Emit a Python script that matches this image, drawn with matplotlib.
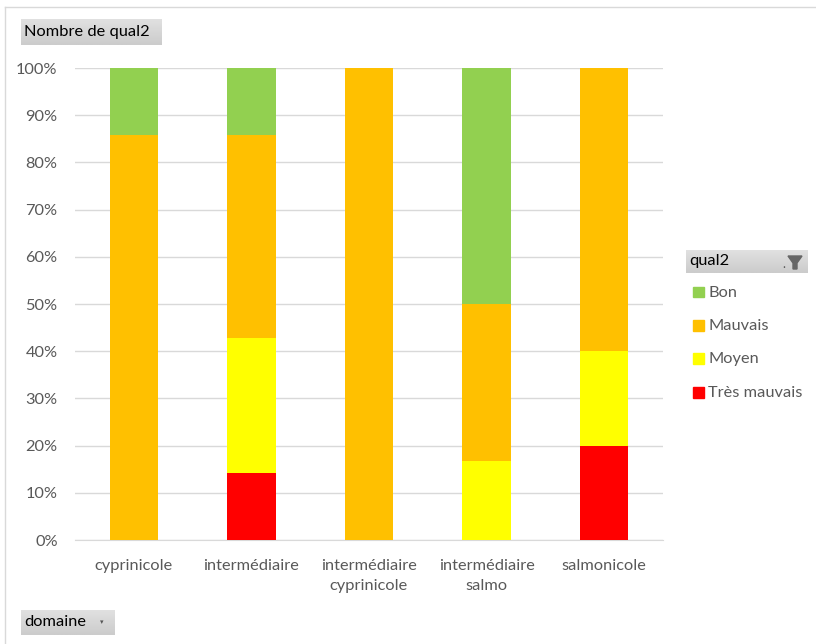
import matplotlib.pyplot as plt
from matplotlib.patches import Rectangle
from matplotlib.lines import Line2D
import numpy as np

plt.rcParams['font.family'] = ['Lato', 'DejaVu Sans']

# Counts of qual2 per domaine (pivot table "Nombre de qual2")
domaines = ["cyprinicole", "intermédiaire", "intermédiaire\ncyprinicole",
            "intermédiaire\nsalmo", "salmonicole"]
tres_mauvais = [0, 1, 0, 0, 1]
moyen = [0, 2, 0, 1, 1]
mauvais = [6, 3, 2, 2, 3]
bon = [1, 1, 0, 3, 0]

series_names = ["Très mauvais", "Moyen", "Mauvais", "Bon"]
series_counts = [tres_mauvais, moyen, mauvais, bon]
series_colors = ["#FF0000", "#FFFF00", "#FFC000", "#92D050"]

yticks = [0, 10, 20, 30, 40, 50, 60, 70, 80, 90, 100]

FS = 11.8
W, H = 816, 644
fig = plt.figure(figsize=(W / 100, H / 100), dpi=100)
ax = fig.add_axes([75 / W, 1 - 540 / H, 588 / W, 472 / H])

counts = np.array(series_counts, dtype=float)
totals = counts.sum(axis=0)
pct = counts / totals * 100

x = np.arange(len(domaines))
bottom = np.zeros(len(domaines))
for name, vals, col in zip(series_names, pct, series_colors):
    ax.bar(x, vals, width=0.41, bottom=bottom, color=col, label=name, zorder=3)
    bottom += vals

ax.set_xlim(-0.5, len(domaines) - 0.5)
ax.set_ylim(0, 100)
ax.set_yticks(yticks)
ax.set_yticklabels([f"{t}%" for t in yticks])
ax.set_xticks(x)
ax.set_xticklabels(domaines, linespacing=1.6)
ax.grid(axis='y', color='#D9D9D9', linewidth=1, zorder=0)
for s in ['top', 'right', 'left']:
    ax.spines[s].set_visible(False)
ax.spines['bottom'].set_color('#D9D9D9')
ax.spines['bottom'].set_zorder(1)
ax.tick_params(axis='both', length=0, labelsize=FS, colors='#595959')
ax.tick_params(axis='y', pad=12.5)
ax.tick_params(axis='x', pad=13.5)

# Chart area border (top and left edges)
fig.add_artist(Line2D([5 / W, 1], [1 - 7 / H, 1 - 7 / H], color='#D9D9D9', lw=1,
                      transform=fig.transFigure))
fig.add_artist(Line2D([5 / W, 5 / W], [0, 1 - 7 / H], color='#D9D9D9', lw=1,
                      transform=fig.transFigure))


def field_button(x0, y0, x1, y1, text):
    # grey pivot-field button with slight gradient
    grad = np.linspace(0.88, 0.80, 20).reshape(-1, 1)
    ax_b = fig.add_axes([x0 / W, 1 - y1 / H, (x1 - x0) / W, (y1 - y0) / H])
    ax_b.imshow(np.dstack([grad, grad, grad]), aspect='auto', extent=[0, 1, 0, 1])
    ax_b.set_xlim(0, 1)
    ax_b.set_ylim(0, 1)
    ax_b.axis('off')
    fig.text((x0 + 3) / W, 1 - (y0 + y1) / 2 / H, text, fontsize=FS,
             color='#000000', va='center', ha='left')
    return ax_b


field_button(21, 19, 162, 45, "Nombre de qual2")
field_button(21, 610, 115, 635, "domaine")
fig.text(102 / W, 1 - 622 / H, "▾", fontsize=5, color='#555555', va='center', ha='center')

# Legend with filter header
field_button(686, 250, 808, 273, "qual2")
fig.text(784 / W, 1 - 264 / H, ".", fontsize=9, color='#555555', va='center', ha='center')
fig.add_artist(plt.Polygon([[788 / W, 1 - 256 / H], [802 / W, 1 - 256 / H],
                            [797 / W, 1 - 263 / H], [797 / W, 1 - 269 / H],
                            [793 / W, 1 - 269 / H], [793 / W, 1 - 263 / H]],
                           closed=True, color='#666666', transform=fig.transFigure))

legend_order = ["Bon", "Mauvais", "Moyen", "Très mauvais"]
legend_y = [292, 325, 358, 392]
for name, yy in zip(legend_order, legend_y):
    col = series_colors[series_names.index(name)]
    fig.add_artist(Rectangle((693 / W, 1 - (yy + 5.5) / H), 11 / W, 11 / H,
                             color=col, transform=fig.transFigure))
    fig.text(708 / W, 1 - (yy + 1) / H, name, fontsize=FS, color='#595959',
             va='center', ha='left')

fig.savefig("out.png", dpi=100)
